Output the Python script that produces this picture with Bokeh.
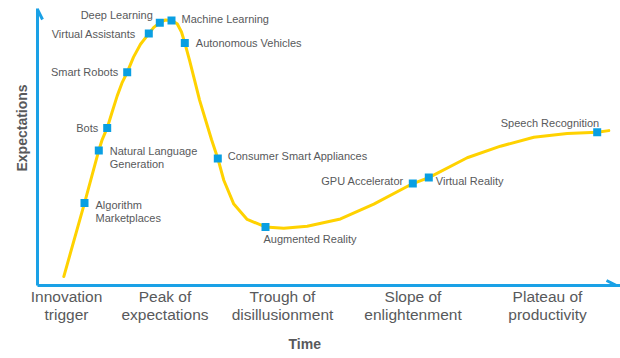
from bokeh.plotting import figure
from bokeh.models import Range1d, FixedTicker, Arrow, OpenHead, ColumnDataSource, Title
from bokeh.core.properties import value
from bokeh.embed import file_html
from bokeh.resources import INLINE

# ---- data (time units / expectation units) ----
curve_time = [26.3, 47, 61.3, 64.7, 69.7, 74.7, 79.7, 84.5, 89.7, 96, 103, 111.3, 116.3,
              122.3, 128, 134, 139.7, 144, 147.3, 152, 157, 162, 168, 174, 180.3, 186.3,
              196.3, 209.7, 228, 246.3, 269.7, 303, 336.3, 375.3, 391.3, 429.7, 463,
              496.3, 529.7, 559.7, 571.3]
curve_expect = [9, 83, 136, 147, 158.7, 175, 191, 204, 214.7, 230, 243, 253.7, 260,
                264.7, 267.5, 267, 263.7, 255.3, 244.3, 227, 207, 187, 167, 147, 128, 106,
                82, 66.5, 59, 57.7, 59.7, 67, 82, 102.7, 108.7, 128.7, 140.3,
                149.3, 153, 154.3, 156]

tech_names = ["Algorithm\nMarketplaces", "Natural Language\nGeneration", "Bots",
              "Smart Robots", "Virtual Assistants", "Deep Learning", "Machine Learning",
              "Autonomous Vehicles", "Consumer Smart Appliances", "Augmented Reality",
              "GPU Accelerator", "Virtual Reality", "Speech Recognition"]
tech_time = [47, 61.3, 69.7, 89.7, 111.3, 122.3, 134, 147.3, 180.3, 228, 375.3, 391.3, 559.7]
tech_expect = [83, 136, 158.7, 214.7, 253.7, 264.7, 267, 244.3, 128, 59, 102.7, 108.7, 154.3]

phase_names = ["Innovation\ntrigger", "Peak of\nexpectations", "Trough of\ndisillusionment",
               "Slope of\nenlightenment", "Plateau of\nproductivity"]
phase_time = [29, 127.5, 245, 375.5, 510]

x_title = "Time"
y_title = "Expectations"

# ---- styling (label placement relative to each marker, in pixels) ----
label_dx = [11, 11, -9, -9, -13, -7, 10, 11, 10, -2, -9, 7, 2]
label_dy = [8.5, 7, 0, 0, 0, -8, -1, 0, -2, 12, -3, 3, -9]
label_align = ["left", "left", "right", "right", "right", "right", "left", "left",
               "left", "left", "right", "left", "right"]

BLUE = "#1aa1e6"
MARK = "#0a9fe2"
YELLOW = "#ffd200"
GRAY = "#58595b"
FONT = "Liberation Sans"

p = figure(width=620, height=358, output_backend="svg", toolbar_location=None,
           x_range=Range1d(0, 583), y_range=Range1d(0, 279),
           min_border_left=37, min_border_right=0, min_border_top=8, min_border_bottom=71)
p.outline_line_color = None
p.grid.visible = False
p.background_fill_color = "white"
p.border_fill_color = "white"

# axes
for ax in (p.xaxis[0], p.yaxis[0]):
    ax.axis_line_color = BLUE
    ax.axis_line_width = 3
    ax.major_tick_line_color = None
    ax.minor_tick_line_color = None
    ax.major_tick_out = 0
    ax.major_tick_in = 0
    ax.minor_tick_out = 0
    ax.minor_tick_in = 0
    ax.major_label_text_font = FONT
    ax.major_label_text_color = GRAY

p.yaxis.ticker = FixedTicker(ticks=[])
p.yaxis.major_label_text_font_size = "0px"
p.yaxis.major_label_standoff = 0

p.xaxis.ticker = FixedTicker(ticks=phase_time)
p.xaxis.major_label_overrides = {t: n for t, n in zip(phase_time, phase_names)}
p.xaxis.major_label_text_font_size = "15.5px"
p.xaxis.major_label_text_line_height = 1.1
p.xaxis.major_label_standoff = 2

# axis titles
p.add_layout(Title(text=x_title, align="left", offset=251, standoff=14,
                   text_font=FONT, text_font_style="bold", text_font_size="14px",
                   text_color=GRAY), "below")
p.add_layout(Title(text=y_title, align="left", offset=114, standoff=15,
                   text_font=FONT, text_font_style="bold", text_font_size="14px",
                   text_color=GRAY), "left")

# arrow heads on the axes
p.add_layout(Arrow(end=OpenHead(size=10, line_color=BLUE, line_width=3),
                   x_start=0, y_start=0, x_end=0, y_end=p.y_range.end - 1,
                   line_color=BLUE, line_width=3))
p.add_layout(Arrow(end=OpenHead(size=10, line_color=BLUE, line_width=3),
                   x_start=0, y_start=0, x_end=p.x_range.end - 4, y_end=0,
                   line_color=BLUE, line_width=3))

# hype curve
p.line(curve_time, curve_expect, line_color=YELLOW, line_width=3, line_join="round",
       line_cap="round")

src = ColumnDataSource(dict(t=tech_time, e=tech_expect, name=tech_names,
                            dx=label_dx, dy=label_dy, align=label_align))
p.scatter("t", "e", source=src, marker="square", size=8, fill_color=MARK, line_color=None)
p.text("t", "e", text="name", source=src, x_offset="dx", y_offset="dy",
       text_align="align", text_baseline="middle", text_font=value(FONT),
       text_font_size="11px", text_color=GRAY, text_line_height=1.1)

open("out.html", "w").write(file_html(p, INLINE))
